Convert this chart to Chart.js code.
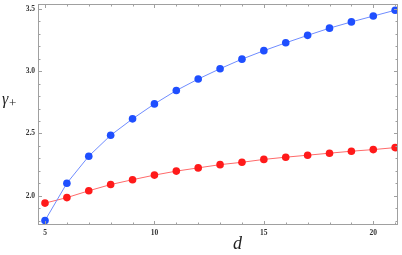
<!DOCTYPE html>
<html><head><meta charset="utf-8">
<script src="https://cdn.jsdelivr.net/npm/chart.js@4"></script>
<style>html,body{margin:0;padding:0;background:#fff}#w{width:402px;height:255px}</style>
</head><body><div id="w"><canvas id="c"></canvas></div>
<script>
const dValues = [5,6,7,8,9,10,11,12,13,14,15,16,17,18,19,20,21];
const blueGamma = [1.80,2.10,2.317,2.485,2.617,2.737,2.845,2.937,3.02,3.097,3.165,3.228,3.288,3.346,3.396,3.443,3.49];
const redGamma = [1.94,1.984,2.039,2.089,2.128,2.165,2.197,2.223,2.249,2.268,2.291,2.309,2.325,2.341,2.357,2.37,2.386];
const xTickLabels = [5,10,15,20];
const yTickLabels = ['2.0','2.5','3.0','3.5'];

function isMajorY(v){return Math.abs(v*2-Math.round(v*2))<1e-6 && yTickLabels.includes(v.toFixed(1));}

const frame = {
  id:'frame',
  afterDraw(chart){
    const {ctx, chartArea:a, scales:{x,y}} = chart;
    ctx.save();
    ctx.strokeStyle='#a0a0a0'; ctx.lineWidth=1;
    ctx.strokeRect(a.left+0.5,a.top+0.5,a.right-a.left-1,a.bottom-a.top-1);
    ctx.beginPath();
    x.ticks.forEach(t=>{
      const px=Math.round(x.getPixelForValue(t.value))+0.5;
      const L = xTickLabels.includes(t.value)?4:2.5;
      ctx.moveTo(px,a.bottom); ctx.lineTo(px,a.bottom-L);
      ctx.moveTo(px,a.top); ctx.lineTo(px,a.top+L);
    });
    y.ticks.forEach(t=>{
      const py=Math.round(y.getPixelForValue(t.value))+0.5;
      const L = isMajorY(t.value)?4:2.5;
      ctx.moveTo(a.left,py); ctx.lineTo(a.left+L,py);
      ctx.moveTo(a.right,py); ctx.lineTo(a.right-L,py);
    });
    ctx.stroke();
    // tick labels
    ctx.fillStyle='#333';
    ctx.font='bold 7.5px "Liberation Serif"';
    ctx.textAlign='center'; ctx.textBaseline='middle';
    x.ticks.forEach(t=>{
      if(xTickLabels.includes(t.value)) ctx.fillText(String(t.value), x.getPixelForValue(t.value), 233);
    });
    ctx.textAlign='right';
    y.ticks.forEach(t=>{
      if(isMajorY(t.value)) ctx.fillText(t.value.toFixed(1), 35, y.getPixelForValue(t.value));
    });
    // axis titles
    ctx.fillStyle='#222';
    ctx.textAlign='left'; ctx.textBaseline='alphabetic';
    ctx.font='italic 16px "Liberation Serif"';
    ctx.fillText('γ',2,104);
    ctx.font='13px "Liberation Serif"';
    ctx.fillText('+',9,107);
    ctx.font='italic 18px "Liberation Serif"';
    ctx.fillText('d',233,249);
    ctx.restore();
  }
};

new Chart(document.getElementById('c'),{
  type:'line',
  data:{datasets:[
    {data:dValues.map((d,i)=>({x:d,y:blueGamma[i]})),borderColor:'#6f8cff',backgroundColor:'#1f4fff',pointBackgroundColor:'#1f4fff',pointBorderWidth:0,pointRadius:3.8,borderWidth:1,tension:0},
    {data:dValues.map((d,i)=>({x:d,y:redGamma[i]})),borderColor:'#ff6a6a',backgroundColor:'#ff1a1a',pointBackgroundColor:'#ff1a1a',pointBorderWidth:0,pointRadius:3.8,borderWidth:1,tension:0}
  ]},
  options:{
    responsive:true,maintainAspectRatio:false,animation:false,
    layout:{padding:{top:0,right:4,left:0,bottom:0}},
    plugins:{legend:{display:false},tooltip:{enabled:false}},
    scales:{
      x:{type:'linear',min:4.68,max:21.13,
        grid:{display:false,drawTicks:false},border:{display:false},
        ticks:{display:false,stepSize:1,includeBounds:false,autoSkip:false},
        afterFit:s=>{s.height=30;}},
      y:{type:'linear',min:1.764,max:3.54,
        grid:{display:false,drawTicks:false},border:{display:false},
        ticks:{display:false,stepSize:0.1,includeBounds:false,autoSkip:false},
        afterFit:s=>{s.width=38;}}
    }
  },
  plugins:[frame]
});
</script></body></html>
